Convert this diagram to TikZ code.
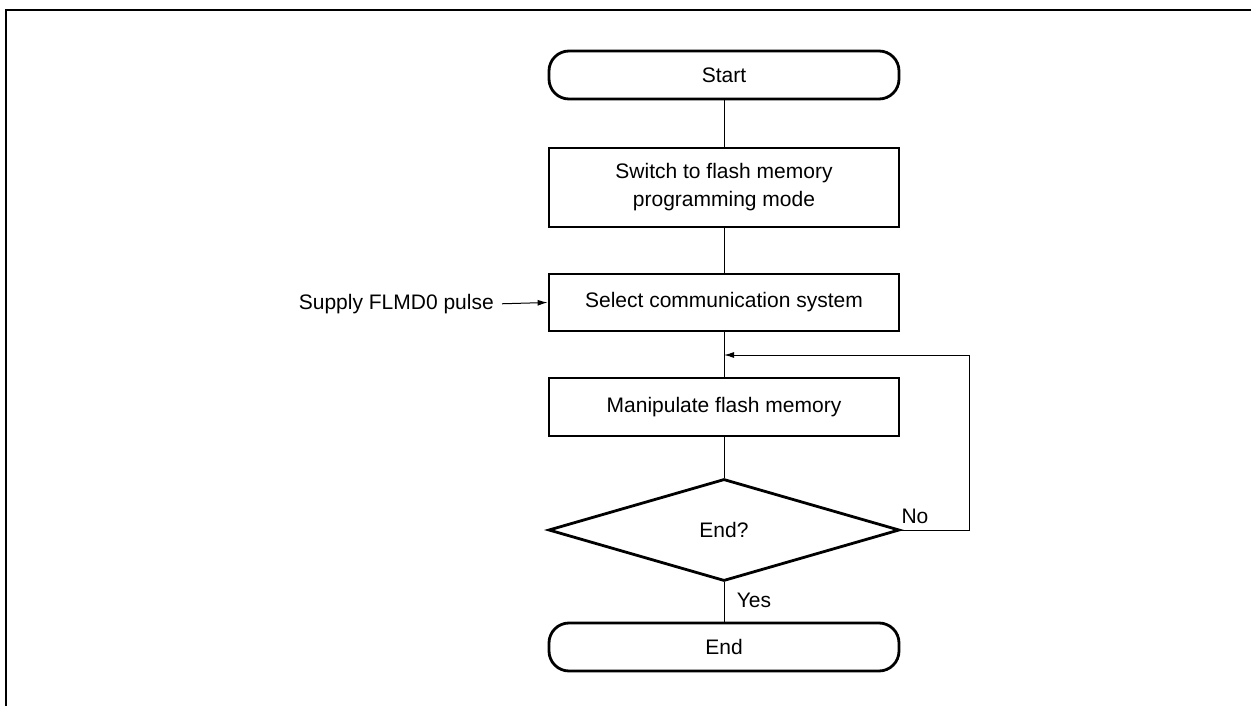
\documentclass[tikz,border=0pt]{standalone}
\usepackage{fontspec}
\setmainfont{Liberation Sans}
\usetikzlibrary{arrows.meta,shapes.geometric}
\begin{document}
\begin{tikzpicture}[x=1pt,y=-1pt,
  txt/.style={font=\fontsize{21}{28}\selectfont},
  term/.style={draw,line width=2.8pt,rounded corners=20pt,minimum width=350pt,minimum height=48pt,inner sep=0pt,txt},
  proc/.style={draw,line width=2.8pt,minimum width=350pt,inner sep=0pt,txt,align=center},
  dec/.style={draw,line width=2.8pt,diamond,minimum width=351pt,minimum height=102pt,inner sep=0pt,txt},
  conn/.style={line width=1pt},
  arr/.style={conn,-{Latex[length=10pt,width=6pt]}},
]
\useasboundingbox (0,0) rectangle (1251,706);
\draw[line width=2.5pt] (6,706) -- (6,10) -- (1251,10);

\node[term] (start) at (724,75) {Start};
\node[proc,minimum height=79pt] (switch) at (724,187.5) {Switch to flash memory\\programming mode};
\node[proc,minimum height=57pt] (select) at (724,302.5) {Select communication system};
\node[proc,minimum height=58pt] (manip) at (724,407) {Manipulate flash memory};
\node[dec] (endq) at (724,530) {End?};
\node[term] (end) at (724,647) {End};

\node[txt,inner sep=0pt,anchor=east] (supply) at (494,304) {Supply FLMD0 pulse};
\node[txt,inner sep=0pt] (no) at (915,516) {No};
\node[txt,inner sep=0pt] (yes) at (754,600) {Yes};

\coordinate (fbr) at (969,530);
\coordinate (fb) at (724,355);

\draw[conn] (start.south) -- (switch.north);
\draw[conn] (switch.south) -- (select.north);
\draw[conn] (select.south) -- (manip.north);
\draw[conn] (manip.south) -- (endq.north);
\draw[conn] (endq.south) -- (end.north);
\draw[arr] (endq.east) -- (fbr) |- (fb);
\draw[arr,shorten <=8pt] (supply.east) -- (select.west);
\end{tikzpicture}
\end{document}
